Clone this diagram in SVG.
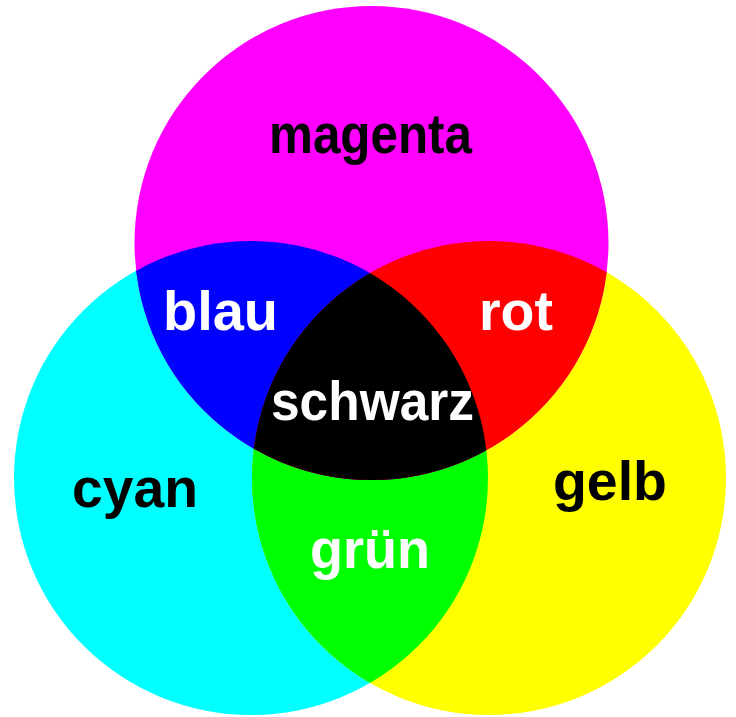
<svg xmlns="http://www.w3.org/2000/svg" width="736" height="717" viewBox="0 0 736 717">
  <style>
    .lbl { font-family: "Liberation Sans", Arial, sans-serif; font-size: 56px; font-weight: bold; }
    .dark { fill: #000000; }
    .light { fill: #ffffff; }
  </style>
  <defs>
    <clipPath id="clipC"><circle cx="251" cy="478" r="237"/></clipPath>
    <clipPath id="clipY"><circle cx="489" cy="478" r="237"/></clipPath>
    <clipPath id="clipM"><circle cx="371.5" cy="243" r="237"/></clipPath>
  </defs>
  <rect width="736" height="717" fill="#ffffff"/>
  <g id="cyan">
    <circle cx="251" cy="478" r="237" fill="#00ffff"/>
  </g>
  <g id="gelb">
    <circle cx="489" cy="478" r="237" fill="#ffff00"/>
  </g>
  <g id="gruen">
    <circle cx="489" cy="478" r="237" fill="#00ff00" clip-path="url(#clipC)"/>
  </g>
  <g id="magenta">
    <circle cx="371.5" cy="243" r="237" fill="#ff00ff"/>
  </g>
  <g id="blau">
    <circle cx="251" cy="478" r="237" fill="#0000ff" clip-path="url(#clipM)"/>
  </g>
  <g id="rot">
    <circle cx="489" cy="478" r="237" fill="#ff0000" clip-path="url(#clipM)"/>
  </g>
  <g id="schwarz">
    <g clip-path="url(#clipM)">
      <circle cx="489" cy="478" r="237" fill="#000000" clip-path="url(#clipC)"/>
    </g>
  </g>
  <g id="labels">
    <text class="lbl dark" x="269" y="153" textLength="203" lengthAdjust="spacingAndGlyphs">magenta</text>
    <text class="lbl light" x="163" y="330" textLength="115" lengthAdjust="spacingAndGlyphs">blau</text>
    <text class="lbl light" x="479" y="330" textLength="74" lengthAdjust="spacingAndGlyphs">rot</text>
    <text class="lbl light" x="271" y="420" textLength="203" lengthAdjust="spacingAndGlyphs">schwarz</text>
    <text class="lbl dark" x="72" y="507" textLength="126" lengthAdjust="spacingAndGlyphs">cyan</text>
    <text class="lbl light" x="310" y="568" textLength="120" lengthAdjust="spacingAndGlyphs">grün</text>
    <text class="lbl dark" x="553" y="500" textLength="114" lengthAdjust="spacingAndGlyphs">gelb</text>
  </g>
</svg>
